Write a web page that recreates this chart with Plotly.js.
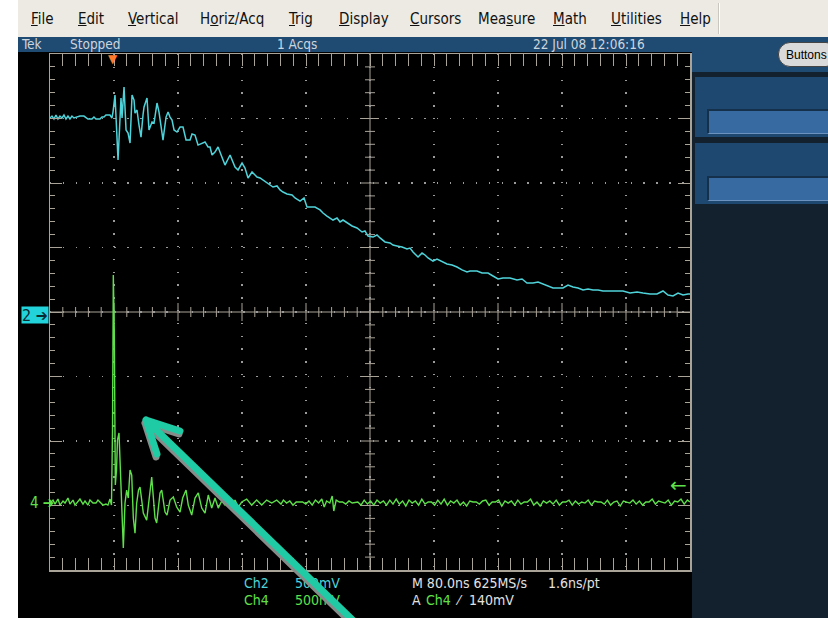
<!DOCTYPE html>
<html><head><meta charset="utf-8">
<script src="https://cdn.plot.ly/plotly-3.0.1.min.js"></script>
<style>
html,body{margin:0;padding:0;}
body{width:828px;height:618px;overflow:hidden;background:#000;position:relative;font-family:'Liberation Sans Narrow','DejaVu Sans Condensed','Roboto Condensed',sans-serif;}
#plot{position:absolute;left:0;top:0;width:828px;height:618px;z-index:1;}
.ov{position:absolute;z-index:3;}
#white{left:0;top:0;width:18px;height:618px;background:#fff;}
#menubar{left:18px;top:0;width:810px;height:37px;background:#ECEAE3;border-bottom:1px solid #d4d2ca;}
#menusep{left:718px;top:3px;width:1px;height:31px;background:#c9c7bf;border-right:1px solid #fff;}
.menu{position:absolute;top:10px;font-size:15px;color:#111;white-space:nowrap;}
#status{left:18px;top:37px;width:810px;height:15px;background:#1F4A72;}
.st{position:absolute;top:37px;font-size:13.5px;line-height:15px;color:#cdd5dd;white-space:nowrap;}
#rpanel{left:692px;top:52px;width:136px;height:566px;background:#13202E;}
#rtop{left:692px;top:52px;width:136px;height:20px;background:#1F4A72;}
.pan{left:695px;width:133px;background:#1E4870;}
.box{left:707px;width:121px;height:22px;background:#386AA2;border-top:2px solid #15304B;border-left:2px solid #15304B;border-bottom:1px solid #6c93bf;}
#btn{left:778px;top:42px;width:60px;height:25px;border-radius:12px;background:#DADADA;border:1px solid #444;font-family:'Liberation Sans','DejaVu Sans',sans-serif;font-size:12px;line-height:25px;padding-left:7px;color:#000;box-sizing:border-box;}
#arrow{position:absolute;left:0;top:0;z-index:6;pointer-events:none;}
</style>
</head><body>
<div id="plot"></div>
<div class="ov" id="white"></div>
<div class="ov" id="menubar"></div>
<div class="ov" id="menusep"></div>
<div class="ov" id="status"></div>
<div class="ov" id="rpanel"></div>
<div class="ov" id="rtop"></div>
<div class="ov pan" style="top:77px;height:60px;"></div>
<div class="ov box" style="top:109px;"></div>
<div class="ov pan" style="top:143px;height:61px;"></div>
<div class="ov box" style="top:176px;"></div>
<div class="ov" id="btn">Buttons</div>
<svg id="arrow" width="828" height="618">
  <g stroke="#858c8a" stroke-width="7" stroke-linecap="round" fill="none" transform="translate(-1,3)">
    <path d="M146,420 L365,632 M146,420 L180,431 M146,420 L157,454"/>
  </g>
  <g stroke="#1FCBA4" stroke-width="7" stroke-linecap="round" fill="none">
    <path d="M146,420 L365,632 M146,420 L180,431 M146,420 L157,454"/>
  </g>
</svg>
<script>
// ---------------- data (time in ns, amplitude in mV) ----------------
const ch2_t = [-78.8,-76.3,-73.8,-71.3,-68.8,-66.3,-63.8,-61.3,-58.8,-56.3,
 -53.8,-51.3,-48.8,-46.3,-41.3,-36.3,-33.8,-31.3,-26.3,-23.8,
 -21.3,-16.3,-13.8,-11.3,-8.8,-3.8,-1.3,0,2.5,6.3,
 10,11.3,13.8,16.3,18.8,21.3,23.8,26.3,27.5,30,
 32.5,35,37.5,38.8,42.5,45,48.8,51.3,55,57.5,
 61.3,62.5,66.3,68.8,71.3,73.8,76.3,80,83.8,87.5,
 91.3,96.3,98.8,102.5,106.3,111.3,115,118.8,121.3,123.8,
 127.5,131.3,136.3,140,146.3,152.5,156.3,161.3,165,168.8,
 173.8,180,183.8,187.5,193.8,200,205,208.8,212.5,217.5,
 223.8,227.5,233.8,238.8,242.5,248.8,252.5,258.8,262.5,267.5,
 271.3,275,280,283.8,287.5,292.5,298.8,305,311.3,315,
 318.8,325,330,333.8,340,346.3,350,355,361.3,367.5,
 371.3,375,381.3,386.3,390,393.8,400,405,411.3,417.5,
 423.8,430,436.3,442.5,446.3,455,461.3,468.8,475,481.3,
 487.5,496.3,505,511.3,517.5,525,531.3,537.5,543.8,550,
 556.3,562.5,568.8,575,581.3,587.5,593.8,600,606.3,612.5,
 621.3,630,637.5,646.3,655,662.5,671.3,680,687.5,693.8,
 700,706.3,712.5,718.8,721.3];
const ch2_mv = [1504,1519,1496,1527,1496,1519,1504,1527,1496,1519,
 1496,1519,1504,1511,1519,1519,1504,1496,1496,1511,
 1496,1496,1511,1511,1527,1527,1504,1550,1682,1178,
 1659,1504,1744,1411,1387,1310,1682,1643,1542,1566,
 1449,1356,1527,1589,1659,1411,1473,1465,1620,1550,
 1387,1333,1511,1550,1511,1488,1411,1395,1434,1434,
 1333,1333,1380,1372,1294,1310,1318,1279,1279,1217,
 1240,1279,1201,1139,1217,1124,1101,1155,1116,1039,
 1085,1046,1039,1023,1000,969,977,946,930,915,
 907,884,860,884,814,814,814,791,767,744,
 729,713,729,698,713,690,667,651,620,628,
 589,581,597,574,543,535,519,512,504,488,
 496,465,426,457,442,419,395,411,388,372,
 364,349,326,310,318,318,302,302,279,256,
 264,264,248,256,225,225,233,217,202,186,
 186,186,209,194,186,171,178,171,171,163,
 163,163,163,147,155,147,140,140,163,132,
 124,147,132,140,140];

const ch4_t = [-78.8,-75,-72.5,-68.8,-66.3,-62.5,-60,-56.3,-53.8,-50,
 -47.5,-43.8,-41.3,-37.5,-35,-31.3,-28.8,-25,-21.3,-18.8,
 -16.3,-12.5,-8.8,-6.3,-3.8,-1.9,-0.6,0.4,1.6,2.9,
 4.4,5.6,7.5,9.4,11.3,12.9,15,17.1,19.1,21.3,
 23.4,25.4,27.5,29.6,31.9,33.8,35.9,37.9,42.1,45,
 48.4,50.4,52.5,54.6,56.9,58.8,60.9,62.9,65,67.5,
 71.3,75.4,79.6,83.8,87.1,91.3,94.1,98.4,102.5,106.6,
 110.9,115,119.1,123.4,127.5,131.6,135.9,140,144.1,148.4,
 152.5,156.6,160.9,167.1,173.4,179.6,185.9,192.1,198.4,204.6,
 210,213,217,221,225,229,233,237,241,245,
 249,253,257,261,264,267,271,274,276,279,
 283,287,291,295,299,303,306,310,314,318,
 322,326,330,334,338,342,346,350,354,358,
 362,366,370,374,378,382,386,390,394,398,
 402,406,410,414,418,422,426,430,434,438,
 442,446,450,454,458,462,466,470,474,478,
 482,486,490,494,498,502,506,510,514,518,
 522,526,530,534,538,542,546,550,554,558,
 562,566,570,574,578,582,586,590,594,598,
 602,606,610,614,618,622,626,630,634,638,
 642,646,650,654,658,662,666,670,674,678,
 682,686,690,694,698,702,706,710,714,718,
 721];
const ch4_mv = [0,23,-8,31,-16,16,0,39,-8,23,
 -16,8,31,-8,16,-16,23,0,0,23,
 8,-16,-8,-16,31,-16,566,1767,1341,140,
 256,488,543,256,-132,-349,0,101,39,256,
 217,-116,-233,0,101,124,23,-78,-132,23,
 202,47,-116,-155,-16,78,101,23,-70,-93,
 23,47,-31,-70,39,101,-16,-93,39,78,
 -39,-78,62,-39,39,-39,16,-16,31,-31,
 23,-31,8,31,-16,23,-16,23,0,23,
 -8,23,0,16,-16,8,8,8,-8,16,
 -16,23,0,31,-31,16,0,54,-62,23,
 8,8,-8,16,0,8,8,-16,23,-8,
 16,-16,23,0,16,-16,23,-8,31,-8,
 16,-23,23,0,16,-16,31,-8,8,8,
 -16,23,-8,31,-16,16,0,23,-16,8,
 -23,16,8,8,-8,16,23,-16,8,8,
 23,-23,16,0,16,-16,23,-8,8,8,
 31,-16,8,-23,16,0,16,-8,23,-16,
 8,8,23,-16,16,-8,8,0,23,-16,
 16,8,8,-8,23,-16,8,16,-23,16,
 8,0,23,-8,16,-16,8,8,31,-8,
 16,8,0,23,-16,16,8,31,-8,23,
 8];

// scope settings
const timePerDiv = 80;      // ns/div
const ch2PerDiv = 500;      // mV/div
const ch4PerDiv = 500;      // mV/div
const ch4Offset = 1481;     // mV : Ch4 ground 2.96 div below centre
const xStart = -78.75;      // ns at left graticule edge
const trigLevel = 140;      // mV

const menuLabels = ['<u>F</u>ile','<u>E</u>dit','<u>V</u>ertical','H<u>o</u>riz/Acq','<u>T</u>rig','<u>D</u>isplay','<u>C</u>ursors','Mea<u>s</u>ure','<u>M</u>ath','<u>U</u>tilities','<u>H</u>elp'];
const menuX = [31,78,128,200,289,339,410,478,553,611,680];
const statusLabels = ['Tek','Stopped','1 Acqs','22 Jul 08 12:06:16'];
const statusX = [22,70,277,533];

// --------------- chrome text ----------------
menuLabels.forEach((m,i)=>{const s=document.createElement('div');s.className='menu ov';s.style.left=menuX[i]+'px';s.innerHTML=m;document.body.appendChild(s);});
statusLabels.forEach((m,i)=>{const s=document.createElement('div');s.className='st ov';s.style.left=statusX[i]+'px';s.style.zIndex=4;s.textContent=m;document.body.appendChild(s);});

// --------------- plot ----------------
const L=50,R=690,T=54,B=570;
const px=x=>(x-L)/(R-L), py=y=>(B-y)/(B-T);
const GR='#a9a398', CY='#4FD3DA', GN='#5EE04A', FONT="'Liberation Sans Narrow','DejaVu Sans Condensed',sans-serif";
const xEnd = xStart + 10*timePerDiv, xMid = xStart + 5*timePerDiv;

const shapes=[];
shapes.push({type:'line',xref:'x',yref:'paper',x0:xMid,x1:xMid,y0:0,y1:1,line:{color:GR,width:1},layer:'below'});
shapes.push({type:'line',xref:'paper',yref:'y',x0:0,x1:1,y0:0,y1:0,line:{color:GR,width:1},layer:'below'});
for(let k=1;k<50;k++){const t=xStart+k*timePerDiv/5;const len=(k%5===0)?9:5;
  shapes.push({type:'line',xref:'x',yref:'y',ysizemode:'pixel',yanchor:0,x0:t,x1:t,y0:-len,y1:len,line:{color:GR,width:1},layer:'below'});}
for(let k=1;k<40;k++){const v=-4*ch2PerDiv+k*ch2PerDiv/5;const len=(k%5===0)?9:5;
  shapes.push({type:'line',xref:'x',yref:'y',xsizemode:'pixel',xanchor:xMid,x0:-len,x1:len,y0:v,y1:v,line:{color:GR,width:1},layer:'below'});}

const f=(c,s)=>({family:FONT,size:s||14,color:c});
const ann=(x,y,text,color,opts)=>Object.assign({xref:'paper',yref:'paper',x:px(x),y:py(y),text:text,showarrow:false,xanchor:'left',yanchor:'middle',font:f(color)},opts||{});
const annotations=[
  ann(242,583,'Ch2',CY), ann(293,583,'500mV',CY),
  ann(242,600,'Ch4',GN), ann(293,600,'500mV',GN),
  ann(410,583,'M 80.0ns 625MS/s','#e2e2e2'), ann(546,583,'1.6ns/pt','#e2e2e2'),
  ann(410,600,'A','#e2e2e2'), ann(424,600,'Ch4',GN), ann(453,600,'⁄','#e2e2e2'), ann(467,600,'140mV','#e2e2e2'),
  ann(21,314.5,'2 ➔','#0b2b33',{bgcolor:'#22D3DC',width:26,height:16,align:'left',borderpad:0,font:f('#0b2b33',16)}),
  ann(28,503,'4 ➔',GN,{font:f(GN,15)}),
  {xref:'paper',yref:'y2',x:1,y:trigLevel,text:'←',showarrow:false,xanchor:'right',yanchor:'middle',font:{family:'DejaVu Sans',size:20,color:GN},xshift:-1},
  {xref:'x',yref:'paper',x:0,y:1,text:'▼',showarrow:false,xanchor:'center',yanchor:'top',font:{family:'DejaVu Sans',size:12,color:'#FF7A2A'},yshift:4}
];

const axBase={showticklabels:false,zeroline:false,showline:true,linecolor:GR,linewidth:1.5,mirror:'allticks',
  ticks:'inside',tickcolor:GR,ticklen:12,tickwidth:1,gridcolor:'#9a9a9a',gridwidth:1.4,showgrid:true,fixedrange:true};

const data=[
  {x:ch2_t,y:ch2_mv,type:'scatter',mode:'lines',name:'Ch2',line:{color:CY,width:1.5},yaxis:'y',hoverinfo:'skip'},
  {x:ch4_t,y:ch4_mv,type:'scatter',mode:'lines',name:'Ch4',line:{color:GN,width:1.4},yaxis:'y2',hoverinfo:'skip'}
];
const layout={
  width:828,height:618,margin:{l:L,r:828-R,t:T,b:618-B,pad:0},
  paper_bgcolor:'#000',plot_bgcolor:'#000',showlegend:false,
  xaxis:Object.assign({},axBase,{range:[xStart,xEnd],tick0:xStart,dtick:timePerDiv,griddash:'1.4px,11.4px',
    minor:{ticks:'inside',ticklen:5,tick0:xStart,dtick:timePerDiv/5,tickcolor:GR,showgrid:false}}),
  yaxis:Object.assign({},axBase,{range:[-4*ch2PerDiv,4*ch2PerDiv],tick0:-4*ch2PerDiv,dtick:ch2PerDiv,griddash:'1.4px,11.5px',
    minor:{ticks:'inside',ticklen:5,tick0:-4*ch2PerDiv,dtick:ch2PerDiv/5,tickcolor:GR,showgrid:false}}),
  yaxis2:{overlaying:'y',range:[ch4Offset-4*ch4PerDiv,ch4Offset+4*ch4PerDiv],visible:false,fixedrange:true},
  shapes:shapes,annotations:annotations
};
Plotly.newPlot('plot',data,layout,{staticPlot:true,displayModeBar:false});
</script>
</body></html>
